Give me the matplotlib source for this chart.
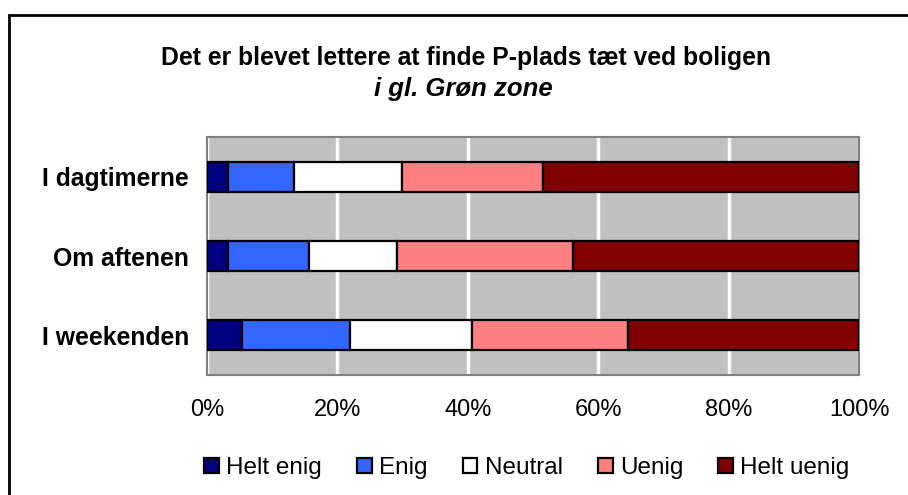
import matplotlib
matplotlib.use("Agg")
from matplotlib import pyplot as plt
from matplotlib.patches import Rectangle
import numpy as np

plt.rcParams['font.family'] = ['Liberation Sans', 'DejaVu Sans']

categories = ["I dagtimerne", "Om aftenen", "I weekenden"]
labels = ["Helt enig", "Enig", "Neutral", "Uenig", "Helt uenig"]
colors = ["#000080", "#3366FF", "#FFFFFF", "#FF8080", "#800000"]

helt_enig = [3.2, 3.2, 5.3]
enig = [10.2, 12.5, 16.6]
neutral = [16.5, 13.5, 18.7]
uenig = [21.6, 27.0, 23.9]
helt_uenig = [48.5, 43.8, 35.5]
series = [helt_enig, enig, neutral, uenig, helt_uenig]

fig = plt.figure(figsize=(9.08, 4.95), dpi=100)
ax = fig.add_axes([207 / 908, 1 - 375 / 495, 652 / 908, 238 / 495])

# outer chart border
fig.patches.append(Rectangle((9 / 908, -0.1), 1.2, 1 - 15 / 495 + 0.1,
                             transform=fig.transFigure, fill=False,
                             edgecolor="black", linewidth=2))

ax.set_facecolor("#C0C0C0")
y = np.arange(len(categories))
left = np.zeros(len(categories))
for vals, lab, col in zip(series, labels, colors):
    ax.barh(y, vals, left=left, height=0.38, color=col, edgecolor="black",
            linewidth=1.6, label=lab, zorder=3)
    left += np.array(vals)

ax.set_xlim(0, 100)
ax.set_ylim(2.5, -0.5)
ax.set_yticks(y)
ax.set_yticklabels(categories, fontsize=17.8, fontweight="bold")
ax.set_xticks(range(0, 101, 20))
ax.set_xticklabels(["%d%%" % v for v in range(0, 101, 20)], fontsize=17)
ax.tick_params(length=0)
ax.tick_params(axis="y", pad=13)
ax.tick_params(axis="x", pad=17)
ax.grid(axis="x", color="white", linewidth=2.5, zorder=1)
for s in ax.spines.values():
    s.set_color("#808080")
    s.set_linewidth(1.5)

fig.text(466 / 908, 1 - 58 / 495, "Det er blevet lettere at finde P-plads tæt ved boligen",
         ha="center", va="center", fontsize=17.8, fontweight="bold")
fig.text(463 / 908, 1 - 89 / 495, "i gl. Grøn zone", ha="center", va="center",
         fontsize=18.5, fontweight="bold", style="italic")

fig.legend(loc="center", bbox_to_anchor=(527 / 908, 1 - 468 / 495), ncol=5,
           frameon=False, fontsize=17.5, handlelength=0.6, handleheight=0.6,
           handletextpad=0.3, columnspacing=1.45)

plt.savefig("out.png", dpi=100)
